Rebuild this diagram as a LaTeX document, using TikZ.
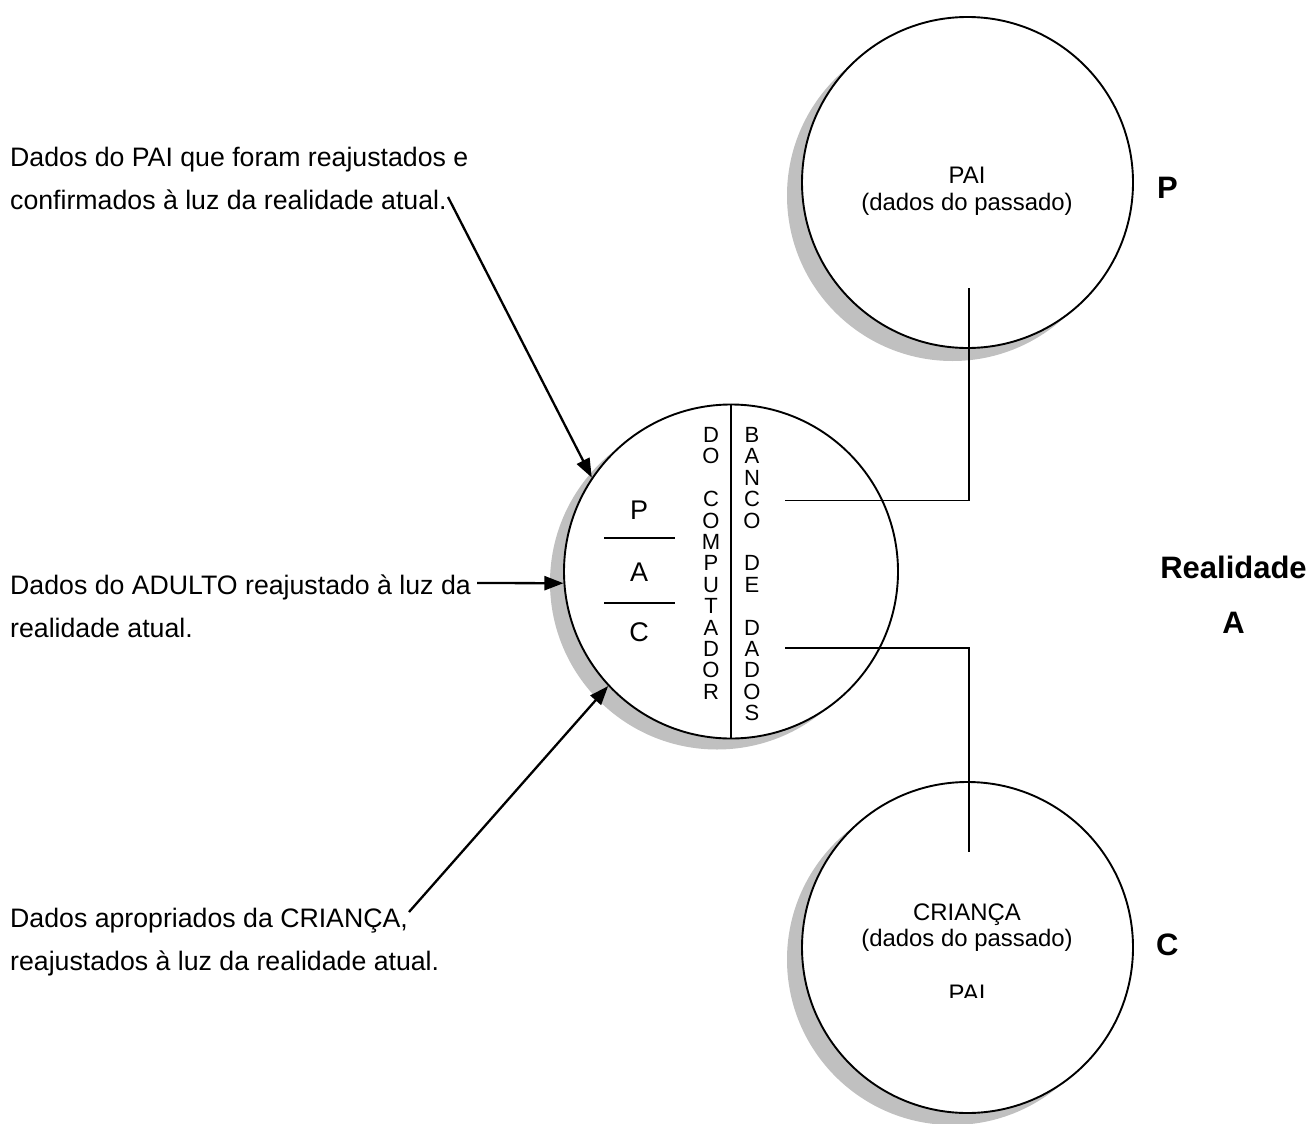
\documentclass[tikz,border=0pt]{standalone}
\usepackage{fontspec}
\setmainfont{Liberation Sans}
\usetikzlibrary{arrows.meta,shadows}
\definecolor{shadowgray}{RGB}{192,192,192}

\begin{document}
\begin{tikzpicture}[x=1pt,y=-1pt,
  bubble/.style 2 args={circle, draw, fill=white, line width=1.9pt, inner sep=0pt,
    general shadow={fill=shadowgray, shadow xshift=#1, shadow yshift=#2}},
  conn/.style={line width=1.8pt},
  feed/.style={line width=2.3pt, -{Triangle[length=19pt,width=14pt]}},
  note/.style={font=\fontsize{26.7}{32}\selectfont, anchor=base west, inner sep=0pt},
  inside/.style={font=\fontsize{23.9}{28}\selectfont, anchor=base, inner sep=0pt},
  pac/.style={font=\fontsize{27}{32}\selectfont, anchor=base, inner sep=0pt},
  vert/.style={font=\fontsize{22}{24}\selectfont, anchor=base, inner sep=0pt},
  big/.style={font=\bfseries\fontsize{31}{36}\selectfont, inner sep=0pt}]

\useasboundingbox[fill=white] (0,0) rectangle (1312,1124);

% the three personality circles
\node[bubble={-15pt}{-13pt}, minimum size=331pt] (pai) at (967.5,182.5) {};
\node[bubble={-15pt}{-12pt}, minimum size=331pt] (crianca) at (967.5,947.5) {};
\node[bubble={-14pt}{-11pt}, minimum size=334pt] (comp) at (731,571.5) {};

% texts inside the outer circles
\node[inside] (paiT1) at (967,183) {PAI};
\node[inside] (paiT2) at (967,210) {(dados do passado)};
\node[inside] (criT1) at (967,920) {CRIANÇA};
\node[inside] (criT2) at (967,946) {(dados do passado)};
\begin{scope}
  \clip (900,960) rectangle (1040,997);
  \node[inside] (criT3) at (967,1001) {PAI};
\end{scope}

% divider of the computer
\draw[conn] (comp.north) -- (comp.south);

% P / A / C column
\node[pac] (lp) at (639,519.5) {P};
\node[pac] (la) at (639,581.7) {A};
\node[pac] (lc) at (639,641.5) {C};
\draw[conn] (604,537.7) -- (675,537.7);
\draw[conn] (604,602.7) -- (675,602.7);

% vertical lettering
\foreach \ch [count=\i from 0] in {D,O,{},C,O,M,P,U,T,A,D,O,R}
  \node[vert] (dc\i) at (711,442.5+21.4*\i) {\ch};
\foreach \ch [count=\i from 0] in {B,A,N,C,O,{},D,E,{},D,A,D,O,S}
  \node[vert] (bd\i) at (752,442.5+21.4*\i) {\ch};

% links to the data bank
\coordinate (paiStub) at (969,288);
\coordinate (bancoIn) at (785,500.5);
\coordinate (dadosIn) at (785,648);
\coordinate (criStub) at (969,852);
\draw[conn] (paiStub) |- (bancoIn);
\draw[conn] (dadosIn) -| (criStub);

% side labels
\node[big, anchor=base west] (sp) at (1157,198) {P};
\node[big, anchor=base] (sr) at (1233.5,578) {Realidade};
\node[big, anchor=base] (sa) at (1233.5,633) {A};
\node[big, anchor=base west] (sc) at (1156,955) {C};

% explanatory notes
\node[note] (n1a) at (10,166.5) {Dados do PAI que foram reajustados e};
\node[note] (n1b) at (10,209.5) {confirmados à luz da realidade atual.};
\node[note] (n2a) at (10,594) {Dados do ADULTO reajustado à luz da};
\node[note] (n2b) at (10,637) {realidade atual.};
\node[note] (n3a) at (10,927) {Dados apropriados da CRIANÇA,};
\node[note] (n3b) at (10,970) {reajustados à luz da realidade atual.};

% arrows into the computer
\coordinate (s1) at (448,197);
\coordinate (s2) at (477,583);
\coordinate (s3) at (409,912);
\draw[feed] (s1) -- (comp.146.8);
\draw[feed] (s2) -- (comp.184);
\draw[feed] (s3) -- (comp.223.6);
\end{tikzpicture}
\end{document}
